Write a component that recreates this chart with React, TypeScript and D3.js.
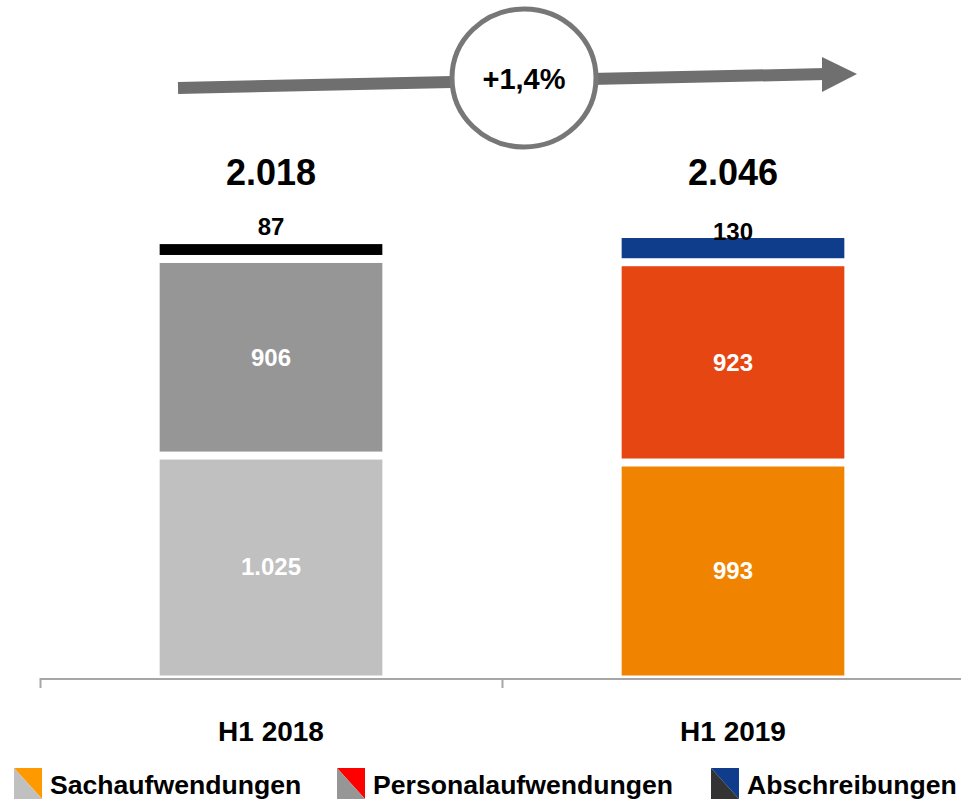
import React from "react";
import * as d3 from "d3";

const categories = ["H1 2018", "H1 2019"];
const totals = ["2.018", "2.046"];
const seriesNames = ["Sachaufwendungen", "Personalaufwendungen", "Abschreibungen"];
const sachValues = [1025, 993];
const personalValues = [906, 923];
const abschrValues = [87, 130];
const valueLabels = [
  ["1.025", "906", "87"],
  ["993", "923", "130"],
];
const growthLabel = "+1,4%";

const barColors = [
  ["#c0c0c0", "#969696", "#000000"],
  ["#f08300", "#e64712", "#103c8c"],
];
const legendColors = [
  ["#ff9900", "#c0c0c0"],
  ["#ff0000", "#969696"],
  ["#103c8c", "#333333"],
];

const W = 961;
const H = 800;
const FONT = "'Liberation Sans', Arial, Helvetica, sans-serif";

export default function App() {
  const x = d3.scaleBand().domain(categories).range([40, 964]).paddingInner(0).paddingOuter(0);
  const barW = x.bandwidth() * 0.482;
  const y = d3.scaleLinear().domain([0, 2500]).range([678, 135.5]);

  const rows = categories.map((c, i) => ({
    cat: c,
    s0: sachValues[i],
    s1: personalValues[i],
    s2: abschrValues[i],
  }));
  const stack = d3.stack<any>().keys(["s0", "s1", "s2"]);
  const stacked = stack(rows);

  const topLabelOffset = [-18, -7];
  const legendX = [14, 337, 711];

  return (
    <svg width={W} height={H} style={{ position: "absolute", left: 0, top: 0, background: "#fff" }} fontFamily={FONT}>
      {/* growth arrow */}
      <line x1={178} y1={88} x2={826} y2={74} stroke="#6f6f70" strokeWidth={12} />
      <polygon points="822,57 857,74 822,92" fill="#6f6f70" />
      <ellipse cx={524} cy={78} rx={72} ry={69} fill="#fff" stroke="#777777" strokeWidth={5} />
      <text x={524} y={79} dy="0.36em" textAnchor="middle" fontWeight="bold" fontSize={29} fill="#000">
        {growthLabel}
      </text>

      {/* bars */}
      {stacked.map((layer, li) =>
        layer.map((d, ci) => {
          const cx = (x(categories[ci]) as number) + x.bandwidth() / 2;
          const top = y(d[1]) + 4;
          const bottom = y(d[0]) - (li === 0 ? 2.5 : 4);
          return (
            <rect
              key={`r${li}-${ci}`}
              x={cx - barW / 2}
              y={top}
              width={barW}
              height={Math.max(0, bottom - top)}
              fill={barColors[ci][li]}
            />
          );
        })
      )}

      {/* inner labels */}
      {stacked.slice(0, 2).map((layer, li) =>
        layer.map((d, ci) => {
          const cx = (x(categories[ci]) as number) + x.bandwidth() / 2;
          const cy = (y(d[1]) + y(d[0])) / 2;
          return (
            <text
              key={`l${li}-${ci}`}
              x={cx}
              y={cy}
              dy="0.36em"
              textAnchor="middle"
              fontWeight="bold"
              fontSize={24}
              fill="#fff"
            >
              {valueLabels[ci][li]}
            </text>
          );
        })
      )}

      {/* top segment labels */}
      {stacked[2].map((d, ci) => {
        const cx = (x(categories[ci]) as number) + x.bandwidth() / 2;
        return (
          <text
            key={`t${ci}`}
            x={cx}
            y={y(d[1]) + 4 + topLabelOffset[ci]}
            dy="0.36em"
            textAnchor="middle"
            fontWeight="bold"
            fontSize={24}
            fill="#000"
          >
            {valueLabels[ci][2]}
          </text>
        );
      })}

      {/* totals */}
      {categories.map((c, ci) => (
        <text
          key={`tot${ci}`}
          x={(x(c) as number) + x.bandwidth() / 2}
          y={172}
          dy="0.36em"
          textAnchor="middle"
          fontWeight="bold"
          fontSize={36}
          fill="#000"
        >
          {totals[ci]}
        </text>
      ))}

      {/* axis */}
      <line x1={40} y1={679} x2={961} y2={679} stroke="#a6a6a6" strokeWidth={2} />
      {categories.map((c, ci) => (
        <line
          key={`tick${ci}`}
          x1={(x(c) as number) + 0.5}
          y1={678}
          x2={(x(c) as number) + 0.5}
          y2={688}
          stroke="#a6a6a6"
          strokeWidth={2}
        />
      ))}
      {categories.map((c, ci) => (
        <text
          key={`cat${ci}`}
          x={(x(c) as number) + x.bandwidth() / 2}
          y={731}
          dy="0.36em"
          textAnchor="middle"
          fontWeight="bold"
          fontSize={28}
          fill="#000"
        >
          {c}
        </text>
      ))}

      {/* legend */}
      {seriesNames.map((name, i) => {
        const lx = legendX[i];
        const x0 = lx, x1 = lx + 28, y0 = 768, y1 = 799;
        return (
          <g key={`lg${i}`}>
            <polygon points={`${x0},${y0} ${x1},${y0} ${x1},${y1}`} fill={legendColors[i][0]} />
            <polygon points={`${x0},${y0} ${x1},${y1} ${x0},${y1}`} fill={legendColors[i][1]} />
            <text x={x1 + 8} y={784} dy="0.36em" fontWeight="bold" fontSize={26.6} fill="#000">
              {name}
            </text>
          </g>
        );
      })}
    </svg>
  );
}
